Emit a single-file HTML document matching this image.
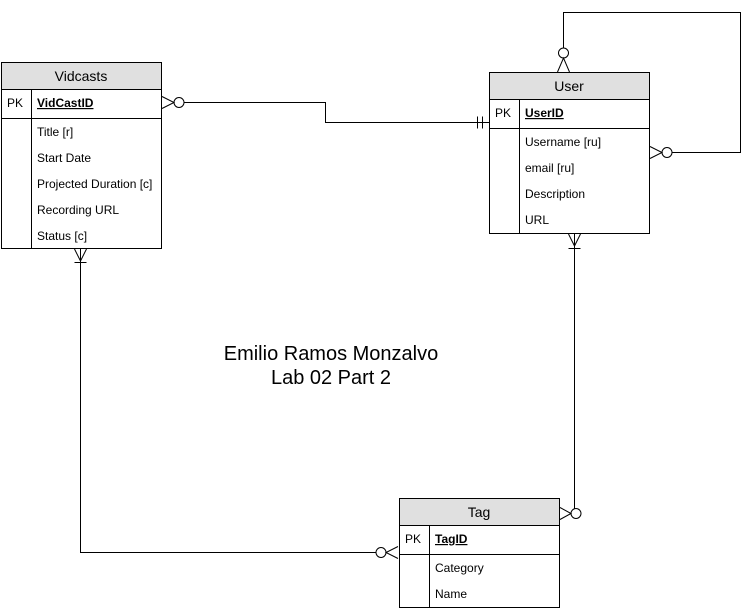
<!DOCTYPE html>
<html><head><style>
body{margin:0;background:#fff;}
svg text{font-family:"Liberation Sans",Helvetica,Arial,sans-serif;fill:#000;}
</style></head><body>
<svg width="754" height="609" viewBox="0 0 754 609" xmlns="http://www.w3.org/2000/svg">
<g fill="none" stroke="#000" stroke-width="1">
<rect x="1.5" y="62.5" width="160" height="186" fill="#fff"/>
<rect x="1.5" y="62.5" width="160" height="27" fill="#e0e0e0"/>
<line x1="1.5" y1="118.5" x2="161.5" y2="118.5"/>
<line x1="31.5" y1="89.5" x2="31.5" y2="248.5"/>
<rect x="489.5" y="72.5" width="160" height="161" fill="#fff"/>
<rect x="489.5" y="72.5" width="160" height="27" fill="#e0e0e0"/>
<line x1="489.5" y1="128.5" x2="649.5" y2="128.5"/>
<line x1="519.5" y1="99.5" x2="519.5" y2="233.5"/>
<rect x="399.5" y="498.5" width="160" height="109" fill="#fff"/>
<rect x="399.5" y="498.5" width="160" height="27" fill="#e0e0e0"/>
<line x1="399.5" y1="554.5" x2="559.5" y2="554.5"/>
<line x1="429.5" y1="525.5" x2="429.5" y2="607.5"/>
<polyline points="184,102.5 325.5,102.5 325.5,122.5 489,122.5"/>
<circle cx="179" cy="102.5" r="5" fill="#fff"/>
<polyline points="162,96.5 174,102.5 162,108.5"/>
<line x1="477.5" y1="116.5" x2="477.5" y2="128.5"/>
<line x1="482.5" y1="116.5" x2="482.5" y2="128.5"/>
<polyline points="563.5,48 563.5,12.5 740.5,12.5 740.5,152.5 672,152.5"/>
<circle cx="563.5" cy="53" r="5" fill="#fff"/>
<polyline points="557.5,72 563.5,58 569.5,72"/>
<circle cx="667" cy="152.5" r="5" fill="#fff"/>
<polyline points="650,146.5 662,152.5 650,158.5"/>
<polyline points="574.5,234 574.5,513.5 581,513.5"/>
<polyline points="568.5,234 574.5,246 580.5,234"/>
<line x1="568.5" y1="248.5" x2="580.5" y2="248.5"/>
<circle cx="576" cy="513.5" r="5" fill="#fff"/>
<polyline points="560,507.5 571,513.5 560,519.5"/>
<polyline points="80.5,249 80.5,552.5 376,552.5"/>
<polyline points="74.5,249 80.5,261 86.5,249"/>
<line x1="74.5" y1="262.5" x2="86.5" y2="262.5"/>
<circle cx="381" cy="552.5" r="5" fill="#fff"/>
<polyline points="398,546.5 386,552.5 398,558.5"/>
</g>
<g font-size="14" text-anchor="middle">
<text x="81" y="81">Vidcasts</text>
<text x="569" y="91">User</text>
<text x="479" y="517">Tag</text>
</g>
<g font-size="12">
<text x="7" y="107">PK</text>
<text x="37" y="107" font-weight="bold" text-decoration="underline">VidCastID</text>
<text x="37" y="136">Title [r]</text>
<text x="37" y="162">Start Date</text>
<text x="37" y="188">Projected Duration [c]</text>
<text x="37" y="214">Recording URL</text>
<text x="37" y="240">Status [c]</text>
<text x="495" y="117">PK</text>
<text x="525" y="117" font-weight="bold" text-decoration="underline">UserID</text>
<text x="525" y="146">Username [ru]</text>
<text x="525" y="172">email [ru]</text>
<text x="525" y="198">Description</text>
<text x="525" y="224">URL</text>
<text x="405" y="543">PK</text>
<text x="435" y="543" font-weight="bold" text-decoration="underline">TagID</text>
<text x="435" y="572">Category</text>
<text x="435" y="598">Name</text>
</g>
<g font-size="20" text-anchor="middle">
<text x="331" y="360">Emilio Ramos Monzalvo</text>
<text x="331" y="384">Lab 02 Part 2</text>
</g>
</svg>
</body></html>
